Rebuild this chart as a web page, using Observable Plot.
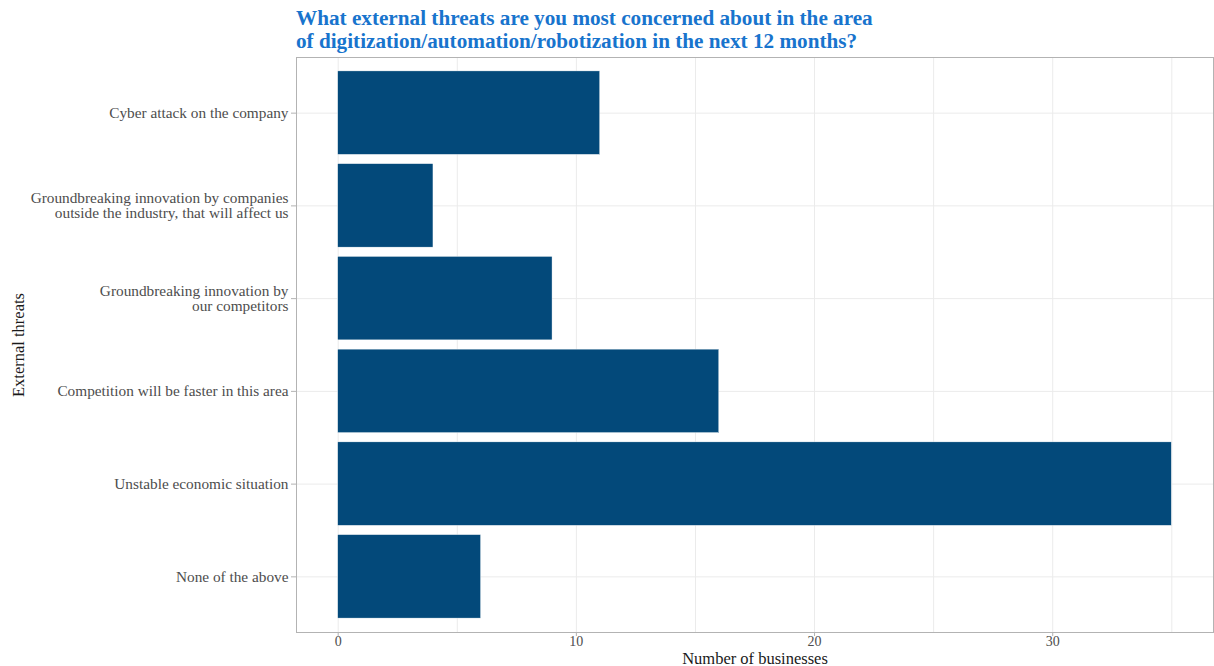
<!DOCTYPE html>
<html>
<head>
<meta charset="utf-8">
<script src="https://cdn.jsdelivr.net/npm/d3@7"></script>
<script src="https://cdn.jsdelivr.net/npm/@observablehq/plot@0.6"></script>
<style>
  body { margin: 0; background: #fff; }
  #title { height: 55px; box-sizing: border-box; padding-left: 296px; padding-top: 7px;
    font-family: "Liberation Serif", serif; font-weight: bold; font-size: 21.2px; line-height: 23px; color: #1874CD; }
  svg { display: block; }
</style>
</head>
<body>
<div id="title">What external threats are you most concerned about in the area<br>of digitization/automation/robotization in the next 12 months?</div>
<div id="chart"></div>
<script>
const categories = [
  "Cyber attack on the company",
  "Groundbreaking innovation by companies\noutside the industry, that will affect us",
  "Groundbreaking innovation by\nour competitors",
  "Competition will be faster in this area",
  "Unstable economic situation",
  "None of the above"
];
const counts = [11, 4, 9, 16, 35, 6];
const xTicks = [0, 10, 20, 30];
const xGrid = [0, 5, 10, 15, 20, 25, 30, 35];

const data = categories.map((c, i) => ({threat: c, n: counts[i]}));

const chart = Plot.plot({
  width: 1214,
  height: 611,
  marginTop: 2,
  marginBottom: 34,
  marginLeft: 296,
  marginRight: 1,
  style: {fontFamily: "Liberation Serif, serif", fontSize: "15.3px", color: "#4d4d4d"},
  x: {domain: [-1.75, 36.75], ticks: xTicks, label: null},
  y: {domain: categories, paddingInner: 0.1, paddingOuter: 0.15, round: false, label: null},
  marks: [
    Plot.gridX(xGrid, {stroke: "#ebebeb", strokeOpacity: 1, strokeWidth: 1}),
    Plot.gridY(categories, {stroke: "#ebebeb", strokeOpacity: 1, strokeWidth: 1}),
    Plot.barX(data, {x1: 0, x2: "n", y: "threat", fill: "#03497A", stroke: "#ffffff", strokeWidth: 0.4}),
    Plot.frame({stroke: "#b3b3b3", strokeWidth: 1}),
    Plot.axisX(xTicks, {tickSize: 4, stroke: "#b3b3b3", tickPadding: 0, fill: "#4d4d4d", fontSize: 14, label: null}),
    Plot.axisY(categories, {tickSize: 5, stroke: "#b3b3b3", tickPadding: 3, fill: "#4d4d4d", label: null, lineHeight: 1.0}),
    Plot.text(["Number of businesses"], {frameAnchor: "bottom", dy: 31, fill: "#1a1a1a", fontSize: 16.5}),
    Plot.text(["External threats"], {frameAnchor: "left", textAnchor: "middle", dx: -278, rotate: -90, fill: "#1a1a1a", fontSize: 16.5})
  ]
});
document.getElementById("chart").appendChild(chart);
</script>
</body>
</html>
